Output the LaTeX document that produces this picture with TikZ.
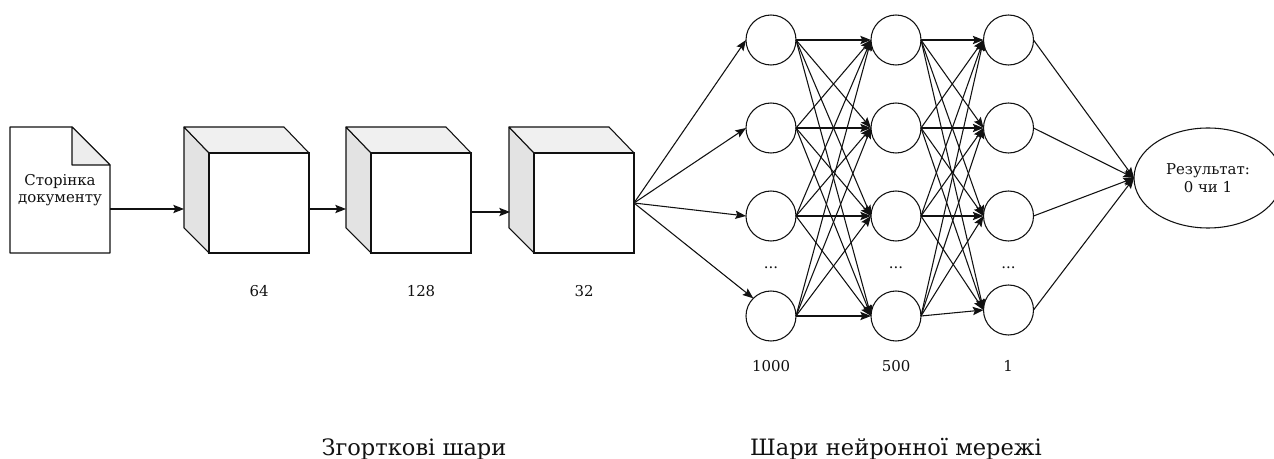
\documentclass[tikz,border=0pt]{standalone}
\usepackage{fontspec}
\setmainfont{DejaVu Serif}
\usetikzlibrary{arrows.meta,shapes.geometric}
\definecolor{inkc}{HTML}{111111}
\tikzset{
  x=0.75pt,y=-0.75pt,
  every node/.style={inner sep=0pt,outer sep=0pt,font=\fontsize{11.2}{13}\selectfont,text=inkc,align=center},
  edge/.style={draw=inkc,line width=0.8pt,-{Stealth[length=8pt,width=6.2pt,inset=1.4pt]}},
  neuron/.style={circle,draw=inkc,line width=0.8pt,minimum size=37.5pt,fill=white},
  cubefront/.style={rectangle,draw=inkc,line width=0.8pt,minimum width=75pt,minimum height=75pt,fill=white},
  outline/.style={draw=inkc,line width=0.8pt,line join=round},
  caption/.style={font=\fontsize{16.9}{20}\selectfont},
}
\begin{document}
\begin{tikzpicture}
\useasboundingbox (0,0) rectangle (1274,459);
\clip (0,0) rectangle (1274,459);
% document page
\draw[outline,fill=white] (10,127) -- (72,127) -- (110,165) -- (110,253) -- (10,253) -- cycle;
\draw[outline,fill=black!7] (72,127) -- (110,165) -- (72,165) -- cycle;
\node (doc) at (60,190) {Сторінка\\документу};
\coordinate (docout) at (110,209);
% cubes
\foreach \n/\x in {a/184,b/346,c/509}{
  \draw[outline,fill=black!11] (\x,127) -- (\x+25,153) -- (\x+25,253) -- (\x,228) -- cycle;
  \draw[outline,fill=black!6] (\x,127) -- (\x+100,127) -- (\x+125,153) -- (\x+25,153) -- cycle;
  \node[cubefront] (\n) at (\x+75,203) {};
}
\coordinate (ain) at (184,209);
\coordinate (aout) at (310,209);
\coordinate (bin) at (346,209);
\coordinate (bout) at (472,212);
\coordinate (cin) at (510,212);
\coordinate (cout) at (634,203);
\node (l64) at (259,291) {64};
\node (l128) at (421,291) {128};
\node (l32) at (584,291) {32};
% neurons
\foreach \r/\y in {1/40,2/128,3/216,4/316}{
  \node[neuron] (p\r) at (771,\y) {};
  \node[neuron] (q\r) at (896,\y) {};
}
\foreach \r/\y in {1/40,2/128,3/216,4/310}{
  \node[neuron] (s\r) at (1008.5,\y) {};
}
\node[ellipse,draw=inkc,line width=0.8pt,minimum width=111pt,minimum height=75pt] (res) at (1208,178) {};
\node (restext) at (1208,178) {Результат:\\0 чи 1};
\node (d1) at (771,268) {...};
\node (d2) at (896,268) {...};
\node (d3) at (1008.5,268) {...};
\node (l1000) at (771,366) {1000};
\node (l500) at (896,366) {500};
\node (l1) at (1008,366) {1};
\node[caption] (c1) at (414,449) {Згорткові шари};
\node[caption] (c2) at (896,449) {Шари нейронної мережі};
% connectors
\draw[edge] (docout) -- (ain);
\draw[edge] (aout) -- (bin);
\draw[edge] (bout) -- (cin);
\draw[edge] (cout) -- (p1.west);
\draw[edge] (cout) -- (p2.west);
\draw[edge] (cout) -- (p3.west);
\draw[edge] (cout) -- (p4.135);
\foreach \i in {1,2,3,4}{\foreach \j in {1,2,3,4}{
  \draw[edge] (p\i.east) -- (q\j.west);
  \draw[edge] (q\i.east) -- (s\j.west);
}}
\foreach \i in {1,2,3,4}{\draw[edge] (s\i.east) -- (res.west);}
\end{tikzpicture}
\end{document}
